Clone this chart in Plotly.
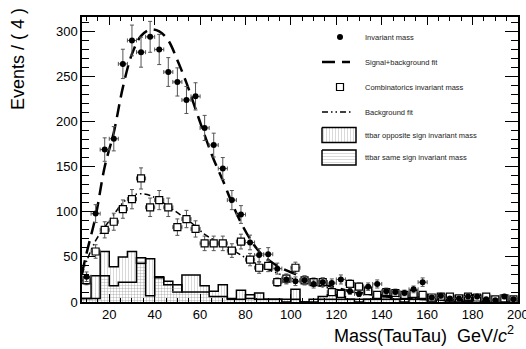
import numpy as np
import plotly.graph_objects as go

# binning: 4 GeV bins from 8 to 200
bin_edges = np.arange(8, 201, 4)
bin_centers = np.arange(10, 200, 4)

x_ticks = list(range(20, 201, 20))
x_ticktext = [str(v) for v in x_ticks[:-1]] + [""]  # "200" is placed by hand, it runs off the page

inv_mass = [28, 98, 169, 181, 264, 290, 277, 294, 280, 255,
            244, 224, 228, 193, 174, 148, 113, 97, 66, 52,
            53, 37, 25, 23, 24, 20, 22, 21, 25, 12,
            9, 17, 20, 12, 11, 10, 14, 22, 5, 7,
            4, 4, 6, 6, 3, 2, 6, 3]

comb_mass = [24, 56, 80, 89, 103, 114, 137, 105, 113, 105,
             83, 92, 81, 65, 65, 65, 57, 67, 47, 38,
             40, 22, 26, 38, 24, 22, 22, 11, 9, 20,
             17, 12, 8, 11, 10, 8, 9, 8, 5, 6,
             6, 4, 6, 5, 6, 3, 4, 3]

ttbar_os = [4, 29, 56, 39, 50, 56, 43, 48, 27, 23,
            11, 30, 30, 18, 12, 19, 4, 13, 4, 10,
            3, 3, 3, 14, 0, 3, 6, 8, 6, 3,
            3, 3, 6, 6, 3, 3, 3, 6, 3, 3,
            3, 0, 3, 3, 3, 0, 3, 3]

ttbar_ss = [4, 4, 29, 18, 22, 22, 49, 7, 28, 19,
            19, 11, 11, 11, 6, 6, 3, 3, 8, 3,
            3, 3, 0, 3, 0, 0, 3, 3, 3, 3,
            0, 3, 3, 3, 3, 0, 3, 3, 0, 3,
            0, 3, 0, 3, 0, 3, 0, 3]

# fit curves
sig_fit_x = [8, 10, 14, 18, 22, 26, 30, 34, 38, 42, 46, 50, 54, 58, 62, 66, 70,
             74, 78, 82, 86, 90, 94, 98, 102, 106, 110, 118, 126, 134, 142, 150,
             160, 170, 180, 190, 200]
sig_fit_y = [32, 54, 95, 150, 188, 238, 275, 295, 302, 300, 290, 268, 243, 214,
             185, 158, 135, 110, 88, 70, 56, 47, 40, 35, 31, 26, 23, 17, 12, 9, 6,
             4, 3, 2, 1.5, 1, 0.8]

bkg_fit_x = [8, 10, 14, 18, 22, 26, 30, 34, 38, 42, 46, 50, 54, 58, 62, 66, 70,
             74, 78, 82, 86, 90, 94, 98, 102, 110, 120, 130, 140, 150, 160, 170,
             180, 190, 200]
bkg_fit_y = [30, 45, 68, 83, 97, 110, 118, 120, 118, 113, 106, 99, 92, 84, 75, 69,
             64, 58, 52, 46, 41, 36, 32, 28, 25, 19, 14, 10, 7.5, 5.5, 4, 3, 2.3,
             1.7, 1.3]

FONT = "Liberation Sans, Arial, Helvetica, sans-serif"
L, R, T, B = 82, 8, 17, 47
W, H = 526, 349
PW, PH = W - L - R, H - B - T  # plot size in px

fig = go.Figure()


def step(vals):
    return list(vals) + [vals[-1]]


fig.add_trace(go.Scatter(
    x=bin_edges, y=step(ttbar_os), mode='lines',
    line=dict(shape='hv', color='black', width=1.5),
    fill='tozeroy', fillcolor='white',
    fillpattern=dict(shape='|', fgcolor='#9a9a9a', bgcolor='white', size=3, solidity=0.25),
    showlegend=False))
fig.add_trace(go.Scatter(
    x=bin_edges, y=step(ttbar_ss), mode='lines',
    line=dict(shape='hv', color='black', width=1.5),
    fill='tozeroy', fillcolor='rgba(0,0,0,0)',
    fillpattern=dict(shape='-', fgcolor='#9a9a9a', bgcolor='rgba(0,0,0,0)', size=3, solidity=0.25),
    showlegend=False))

fig.add_trace(go.Scatter(
    x=bkg_fit_x, y=bkg_fit_y, mode='lines',
    line=dict(shape='spline', color='black', width=1.5, dash='6px,3px,1.5px,3px,1.5px,3px'),
    showlegend=False))
fig.add_trace(go.Scatter(
    x=sig_fit_x, y=sig_fit_y, mode='lines',
    line=dict(shape='spline', color='black', width=2.5, dash='13px,7px'),
    showlegend=False))

err_style = dict(color='#555', thickness=1, width=2)
fig.add_trace(go.Scatter(
    x=bin_centers, y=comb_mass, mode='markers',
    marker=dict(symbol='square', size=7, color='white', line=dict(color='black', width=1.2)),
    error_y=dict(type='data', array=np.sqrt(comb_mass), **err_style),
    error_x=dict(type='constant', value=2, **err_style),
    showlegend=False))
fig.add_trace(go.Scatter(
    x=bin_centers, y=inv_mass, mode='markers',
    marker=dict(symbol='circle', size=6, color='black'),
    error_y=dict(type='data', array=np.sqrt(inv_mass), **err_style),
    error_x=dict(type='constant', value=2, **err_style),
    showlegend=False))

# ---- legend, drawn on an overlay axis in pixel units ----
leg_text = ["Invariant mass", "Signal+background fit", "Combinatorics invariant mass",
            "Background fit", "ttbar opposite sign invariant mass", "ttbar same sign invariant mass"]
leg_y = [37, 62, 87, 112, 135, 157.5]
ov = dict(xaxis='x2', yaxis='y2', showlegend=False, hoverinfo='skip')

fig.add_trace(go.Scatter(x=[340], y=[leg_y[0]], mode='markers',
                         marker=dict(symbol='circle', size=6, color='black'), **ov))
fig.add_trace(go.Scatter(x=[322, 350], y=[leg_y[1]] * 2, mode='lines',
                         line=dict(color='black', width=2.5, dash='13px,7px'), **ov))
fig.add_trace(go.Scatter(x=[340], y=[leg_y[2]], mode='markers',
                         marker=dict(symbol='square', size=7, color='white',
                                     line=dict(color='black', width=1.2)), **ov))
fig.add_trace(go.Scatter(x=[322, 352], y=[leg_y[3]] * 2, mode='lines',
                         line=dict(color='black', width=1.5, dash='6px,3px,1.5px,3px,1.5px,3px'), **ov))
for yc, shp in [(leg_y[4], '|'), (leg_y[5], '-')]:
    fig.add_trace(go.Scatter(
        x=[322, 356, 356, 322, 322], y=[yc - 7.5, yc - 7.5, yc + 7.5, yc + 7.5, yc - 7.5],
        mode='lines', line=dict(color='black', width=1.5), fill='toself', fillcolor='white',
        fillpattern=dict(shape=shp, fgcolor='#9a9a9a', bgcolor='white', size=3, solidity=0.25), **ov))

annotations = []
for t, yc in zip(leg_text, leg_y):
    annotations.append(dict(x=363, y=yc, xref='x2', yref='y2', text=t, showarrow=False,
                            xanchor='left', yanchor='middle',
                            font=dict(family=FONT, size=7.5, color='#222')))

# last x tick label, partly off the page as in the original
annotations.append(dict(x=200, y=-3 / PH, xref='x', yref='paper', text="200", showarrow=False,
                        xanchor='center', yanchor='top',
                        font=dict(family=FONT, size=13, color='black')))

# axis titles (ROOT style: y title at the top, x title at the right)
annotations.append(dict(x=(18 - L) / PW, y=1 + (T - 6) / PH, xref='paper', yref='paper',
                        text="Events / ( 4 )", textangle=-90, showarrow=False,
                        xanchor='center', yanchor='top', font=dict(family=FONT, size=18, color='black')))
annotations.append(dict(x=(516 - L) / PW, y=-(334 - (H - B)) / PH, xref='paper', yref='paper',
                        text="Mass(TauTau)  GeV/<i>c</i><sup>2</sup>", showarrow=False,
                        xanchor='right', yanchor='middle', font=dict(family=FONT, size=18, color='black')))

axis_common = dict(showgrid=False, zeroline=False, showline=True, linecolor='black', linewidth=1.5,
                   ticks='inside', mirror='ticks', tickcolor='black', tickwidth=1,
                   automargin=False,
                   tickfont=dict(family=FONT, size=13, color='black'))

fig.update_layout(
    width=W, height=H,
    margin=dict(l=L, r=R, t=T, b=B),
    plot_bgcolor='white', paper_bgcolor='white',
    showlegend=False,
    annotations=annotations,
    xaxis=dict(range=[8, 200], tickmode='array', tickvals=x_ticks, ticktext=x_ticktext, ticklen=8,
               minor=dict(dtick=5, tick0=0, ticklen=4, ticks='inside', tickcolor='black'),
               **axis_common),
    yaxis=dict(range=[0, 316], tick0=0, dtick=50, ticklen=13,
               minor=dict(dtick=10, tick0=0, ticklen=7, ticks='inside', tickcolor='black'),
               **axis_common),
    xaxis2=dict(range=[L, W - R], overlaying='x', visible=False, fixedrange=True),
    yaxis2=dict(range=[H - B, T], overlaying='y', visible=False, fixedrange=True),
)

# the page body has a default margin; remove it so the figure sits at the top-left corner
fig.write_html("out.html", config={'displayModeBar': False},
               post_script="document.body.style.margin='0';")
